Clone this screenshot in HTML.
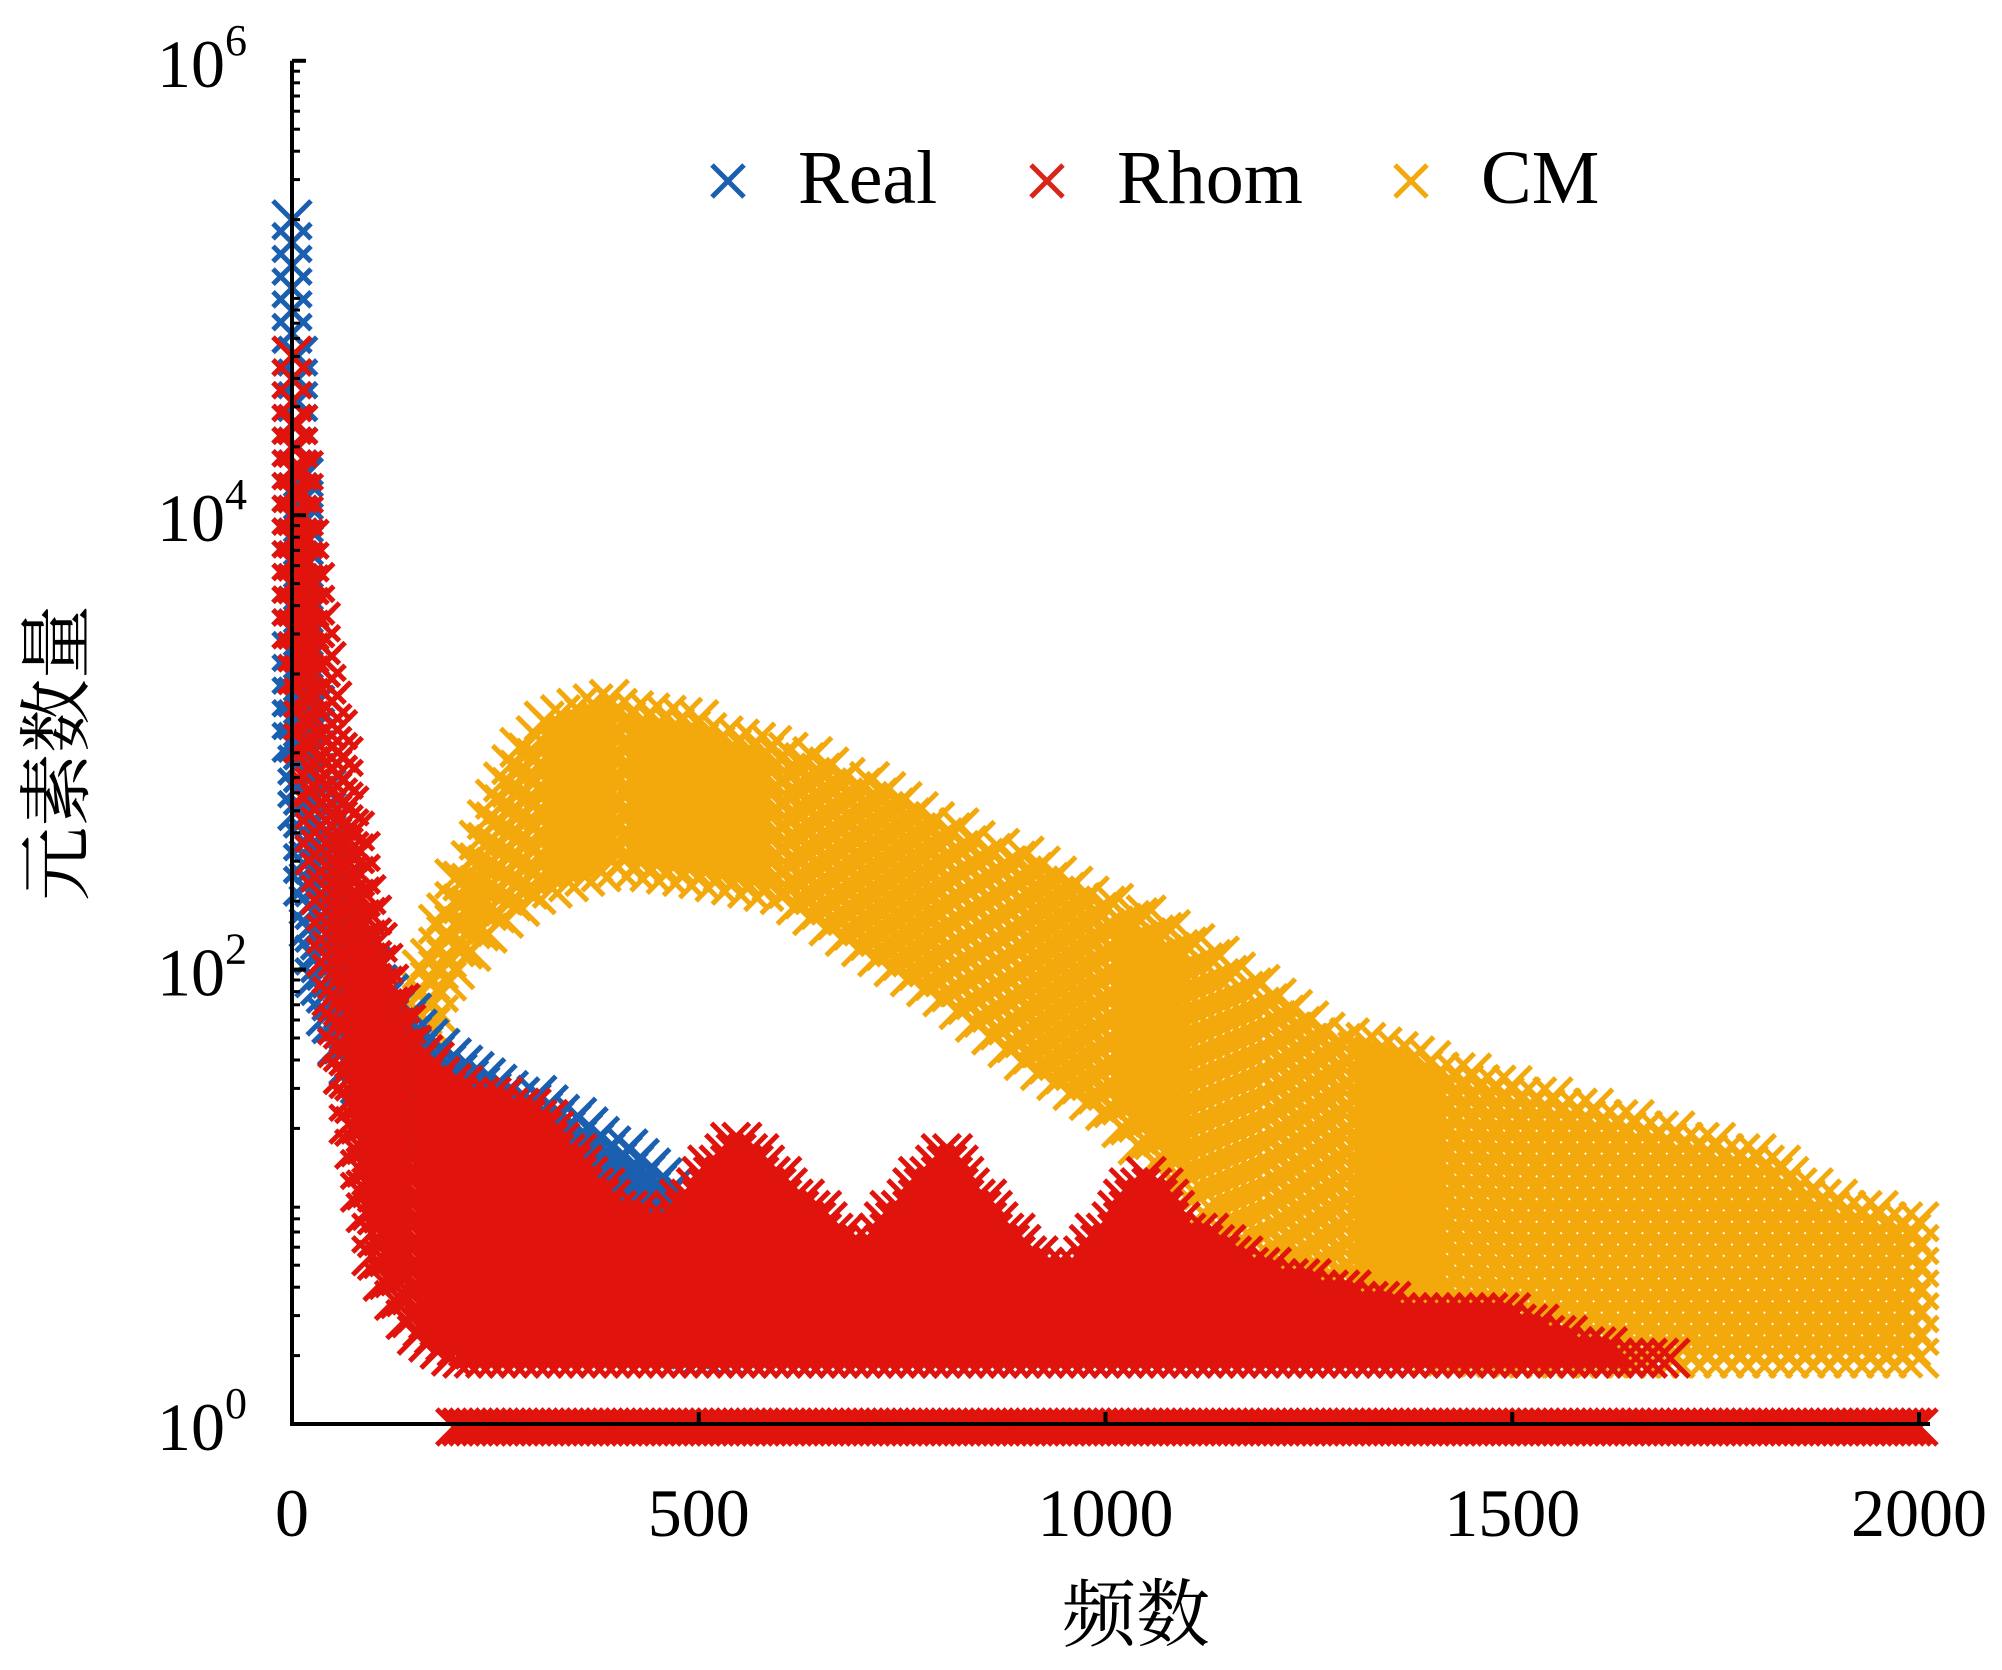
<!DOCTYPE html>
<html><head><meta charset="utf-8"><style>
html,body{margin:0;padding:0;background:#fff;}
svg{display:block;}
text{font-family:"Liberation Serif","Noto Serif CJK SC",serif;fill:#000;}
</style></head><body>
<svg id="chart" width="2002" height="1670" viewBox="0 0 2002 1670" xmlns="http://www.w3.org/2000/svg">
<g id="marks"></g>
<g id="axes"></g>
<g>
  <g>
    <path d="M712,165 L744,197 M744,165 L712,197" stroke="#1a5fb0" stroke-width="5"/>
    <text x="798" y="203" font-size="76">Real</text>
  </g>
  <g>
    <path d="M1031,165 L1063,197 M1063,165 L1031,197" stroke="#d9261a" stroke-width="5"/>
    <text x="1117" y="203" font-size="76">Rhom</text>
  </g>
  <g>
    <path d="M1395,165 L1427,197 M1427,165 L1395,197" stroke="#f3a80c" stroke-width="5"/>
    <text x="1481" y="203" font-size="76">CM</text>
  </g>
</g>
<text x="1136" y="1640" font-size="74" text-anchor="middle">频数</text>
<text transform="translate(82,753) rotate(-90)" font-size="74" text-anchor="middle">元素数量</text>
</svg>
<script>
// ---- data (log10 of element count) ----
const cmX     = [160,200,250,300,350,400,500,600,700,800,900,1000,1100,1200,1300,1400,1500,1600,1700,1800,1900,2000];
const cmUpper = [2.0,2.4,2.8,3.1,3.2,3.2,3.1,3.0,2.85,2.67,2.5,2.33,2.15,1.94,1.7,1.6,1.5,1.4,1.3,1.2,1.0,0.9];
const cmLower = [1.6,2.0,2.2,2.33,2.4,2.45,2.4,2.33,2.1,1.88,1.6,1.38,1.0,0.65,0.4,0.3,0.29,0.29,0.29,0.29,0.29,0.29];
const rhX     = [0,25,50,75,100,150,200,300,400,450,500,550,600,700,750,800,900,950,1000,1050,1100,1200,1300,1400,1500,1600,1700];
const rhUpper = [4.7,3.8,3.2,2.7,2.2,1.7,1.5,1.4,1.0,0.9,1.1,1.3,1.1,0.8,1.0,1.25,0.8,0.7,0.9,1.15,0.9,0.7,0.6,0.5,0.5,0.35,0.29];
const rhLower = [3.5,2.6,1.8,1.2,0.7,0.4,0.29,0.29,0.29,0.29,0.29,0.29,0.29,0.29,0.29,0.29,0.29,0.29,0.29,0.29,0.29,0.29,0.29,0.29,0.29,0.29,0.29];
const rhBaseX = [200,2000];
const blX     = [0,10,25,50,100,200,300,400,500,550,700,800,900,1000,1200,1500,1650];
const blUpper = [5.3,4.5,3.3,2.6,2.0,1.6,1.45,1.25,0.95,0.6,0.7,0.6,0.8,0.6,0.5,0.4,0.3];
const blLower = [3.0,2.5,2.0,1.7,1.4,1.1,0.9,0.6,0.3,0.29,0.29,0.29,0.29,0.29,0.29,0.29,0.29];
const yTicks  = [0,2,4,6];
const xTicks  = [0,500,1000,1500,2000];

const X0=292, X1=1919, Y0=1424, PER=227.2;
const xs = v => X0 + v*(X1-X0)/2000;
const ys = l => Y0 - l*PER;
const NS="http://www.w3.org/2000/svg";
const marks=document.getElementById('marks');
const axes=document.getElementById('axes');

function interp(xa,ya,x){
  for(let i=0;i<xa.length-1;i++){ if(x>=xa[i]&&x<=xa[i+1]){const t=(x-xa[i])/(xa[i+1]-xa[i]);return ya[i]+t*(ya[i+1]-ya[i]);} }
  return null;
}
function band(xa,up,lo,color,name,step){
  const g=document.createElementNS(NS,'g');
  
  
  let k=0;
  for(let x=xa[0]; x<=xa[xa.length-1]; x+=step){
    const u=interp(xa,up,x), l=interp(xa,lo,x);
    if(u===null) continue;
    const off=(k++%2)*0.05;
    for(let v=l+off; v<=u+0.001; v+=0.1){
      const cx=xs(x), cy=ys(v), s=19;
      const p=document.createElementNS(NS,'path');
      p.setAttribute('d',`M${cx-s},${cy-s}L${cx+s},${cy+s}M${cx+s},${cy-s}L${cx-s},${cy+s}`);
      p.setAttribute('stroke',color);p.setAttribute('stroke-width','5');
      
      
      g.appendChild(p);
    }
  }
  marks.appendChild(g);
}
band(cmX,cmUpper,cmLower,'#f3a80c','cm',10);
band(blX,blUpper,blLower,'#1a5fb0','real',7);
band(rhX,rhUpper,rhLower,'#e0140c','rhom',7);
(function(){
  const g=document.createElementNS(NS,'g');
  
  
  for(let x=rhBaseX[0]; x<=rhBaseX[1]; x+=8){
    const cx=xs(x), cy=ys(0)+3, s=18;
    const p=document.createElementNS(NS,'path');
    p.setAttribute('d',`M${cx-s},${cy-s}L${cx+s},${cy+s}M${cx+s},${cy-s}L${cx-s},${cy+s}`);
    p.setAttribute('stroke','#e0140c');p.setAttribute('stroke-width','5');
    
    
    g.appendChild(p);
  }
  marks.appendChild(g);
})();

function line(x1,y1,x2,y2,w,name){
  const l=document.createElementNS(NS,'line');
  l.setAttribute('x1',x1);l.setAttribute('y1',y1);l.setAttribute('x2',x2);l.setAttribute('y2',y2);
  l.setAttribute('stroke','#000');l.setAttribute('stroke-width',w);
  
  
  axes.appendChild(l);
}
line(X0,ys(6),X0,Y0+2,4,'y-axis-line');
line(X0-2,Y0,1930,Y0,4,'x-axis-line');
for(let d=0; d<6; d++){
  for(let m=2;m<=9;m++){ const y=ys(d+Math.log10(m)); line(X0,y,X0+8,y,3,'y-minor-tick'); }
}
yTicks.forEach(t=>{
  line(X0,ys(t),X0+14,ys(t),4,'y-major-tick');
  const tx=document.createElementNS(NS,'text');
  tx.setAttribute('x',X0-135);tx.setAttribute('y',ys(t)+26);tx.setAttribute('font-size','68');
  
  
  tx.innerHTML='10<tspan dy="-32" font-size="44">'+t+'</tspan>';
  axes.appendChild(tx);
});
xTicks.forEach(t=>{
  line(xs(t),Y0,xs(t),Y0-12,4,'x-major-tick');
  const tx=document.createElementNS(NS,'text');
  tx.setAttribute('x',xs(t));tx.setAttribute('y',1536);tx.setAttribute('font-size','68');
  tx.setAttribute('text-anchor','middle');
  
  
  tx.textContent=t;
  axes.appendChild(tx);
});
</script>
</body></html>
